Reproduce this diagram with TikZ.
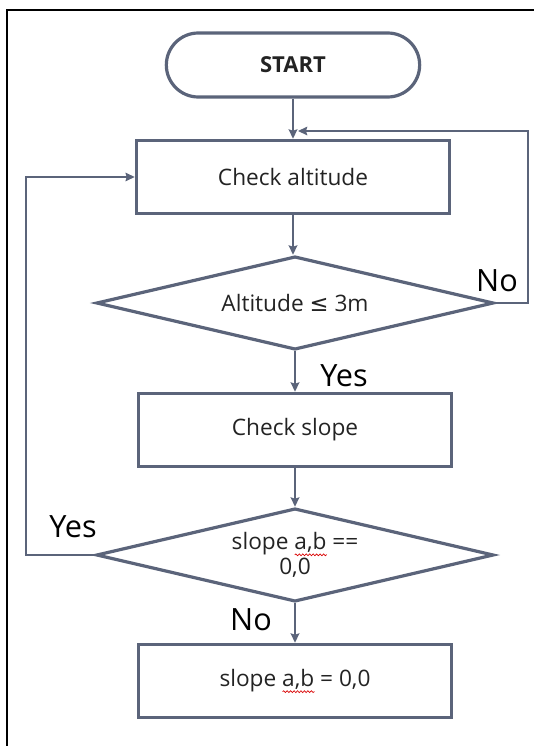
\documentclass[tikz,border=0pt]{standalone}
\usepackage{fontspec}
\setmainfont{Open Sans}
\newfontfamily\symfont{DejaVu Sans}
\usetikzlibrary{arrows.meta,shapes.geometric,decorations.pathmorphing}

\definecolor{slate}{RGB}{91,100,122}
\definecolor{ink}{RGB}{35,35,35}
\newlength{\wavewd}
\newcommand{\spellwave}[1]{\settowidth{\wavewd}{#1}\rlap{\tikz[baseline=0pt]{\draw[red!85!black, line width=0.5pt, decorate, decoration={snake, amplitude=0.7pt, segment length=2.6pt}] (0pt,-4pt) -- (\wavewd,-4pt);}}#1}

\begin{document}
\begin{tikzpicture}[
  x=0.75pt, y=-0.75pt,
  font=\fontsize{17}{19}\selectfont, text=ink,
  terminal/.style={draw=slate, line width=2.4pt, rounded corners=24pt, align=center, minimum width=190pt, minimum height=48pt, font=\fontsize{16.5}{19}\selectfont\bfseries},
  process/.style={draw=slate, line width=2.4pt, align=center, minimum width=235pt, minimum height=55pt},
  decision/.style={draw=slate, line width=2.4pt, diamond, aspect=4.2, inner sep=0pt, align=center, minimum width=298pt, minimum height=70pt},
  answer/.style={font=\fontsize{23}{26}\selectfont, text=black, inner sep=0pt},
  flow/.style={-{Stealth[length=7pt, width=6.5pt, inset=1pt]}, line width=1.5pt, draw=slate},
  loopback/.style={-{Stealth[length=7pt, width=6.5pt, inset=1pt]}, line width=1pt, draw=slate}
]
\useasboundingbox (0,0) rectangle (534,746);
\draw[black, line width=1.5pt] (7,746) -- (7,10) -- (534,10);

\node[terminal] (start) at (293,65) {START};
\node[process] (alt) at (293,177) {Check altitude};
\node[decision] (q1) at (295,303) {Altitude {\symfont≤} 3m};
\node[process] (slope) at (295,430) {Check slope};
\node[decision] (q2) at (295,555) {slope \spellwave{a,b} ==\\0,0};
\node[process] (level) at (295,681) {slope \spellwave{a,b} = 0,0};

\draw[flow] (start.south) -- (start.south |- alt.north);
\draw[flow] (alt.south) -- (alt.south |- q1.north);
\draw[flow] (q1.south) -- (q1.south |- slope.north);
\draw[flow] (slope.south) -- (slope.south |- q2.north);
\draw[flow] (q2.south) -- (q2.south |- level.north);

\coordinate (noturn) at (528,131);
\coordinate (retin) at (298,131);
\coordinate (yesturn) at (26,177);
\draw[loopback] (q1.east) -| (noturn) -- (retin);
\draw[loopback] (q2.west) -| (yesturn) -- (alt.west);

\node[answer] (no1) at (497,281) {No};
\node[answer] (yes1) at (344,376) {Yes};
\node[answer] (yes2) at (73,527) {Yes};
\node[answer] (no2) at (251,620) {No};

\end{tikzpicture}
\end{document}
